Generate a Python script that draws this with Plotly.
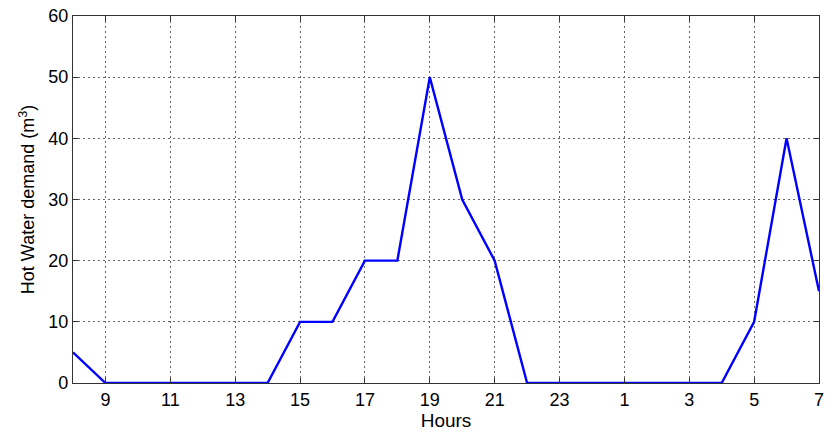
import plotly.graph_objects as go

# hours from 8:00 to 7:00 next day (continuous axis 8..31)
hours = list(range(8, 32))
demand = [5, 0, 0, 0, 0, 0, 0, 10, 10, 20, 20, 50, 30, 20, 0, 0, 0, 0, 0, 0, 0, 10, 40, 15]

tick_vals = list(range(9, 32, 2))
tick_text = ["9", "11", "13", "15", "17", "19", "21", "23", "1", "3", "5", "7"]
y_ticks = [0, 10, 20, 30, 40, 50, 60]

fig = go.Figure()
fig.add_trace(go.Scatter(x=hours, y=demand, mode="lines",
                         line=dict(color="#0000ff", width=2.4), showlegend=False))

axis_common = dict(
    showline=True, linecolor="#333333", linewidth=1.3, mirror="ticks",
    ticks="inside", ticklen=5, tickcolor="#333333", tickwidth=1.3,
    showgrid=True, gridcolor="#666666", griddash="1.5px,3.5px", gridwidth=1.2,
    zeroline=False, tickfont=dict(size=18, color="#000000"),
    automargin=False, ticklabeloverflow="allow",
)

fig.update_xaxes(range=[8, 31], tickvals=tick_vals, ticktext=tick_text,
                 title=dict(text="Hours", font=dict(size=19), standoff=4), **axis_common)
fig.update_yaxes(range=[0, 60], tickvals=y_ticks,
                 title=dict(text="Hot Water demand (m<sup>3</sup>)", font=dict(size=18), standoff=8),
                 **axis_common)

fig.update_layout(
    width=826, height=438,
    margin=dict(l=73, r=7, t=16, b=55),
    paper_bgcolor="white", plot_bgcolor="white",
    font=dict(family="Liberation Sans, Arial, sans-serif", color="#000000"),
)

# page body has a default 8px margin; drop it so the figure fills the window
fig.write_html("out.html", config={"displayModeBar": False},
               post_script="document.body.style.margin='0';")
